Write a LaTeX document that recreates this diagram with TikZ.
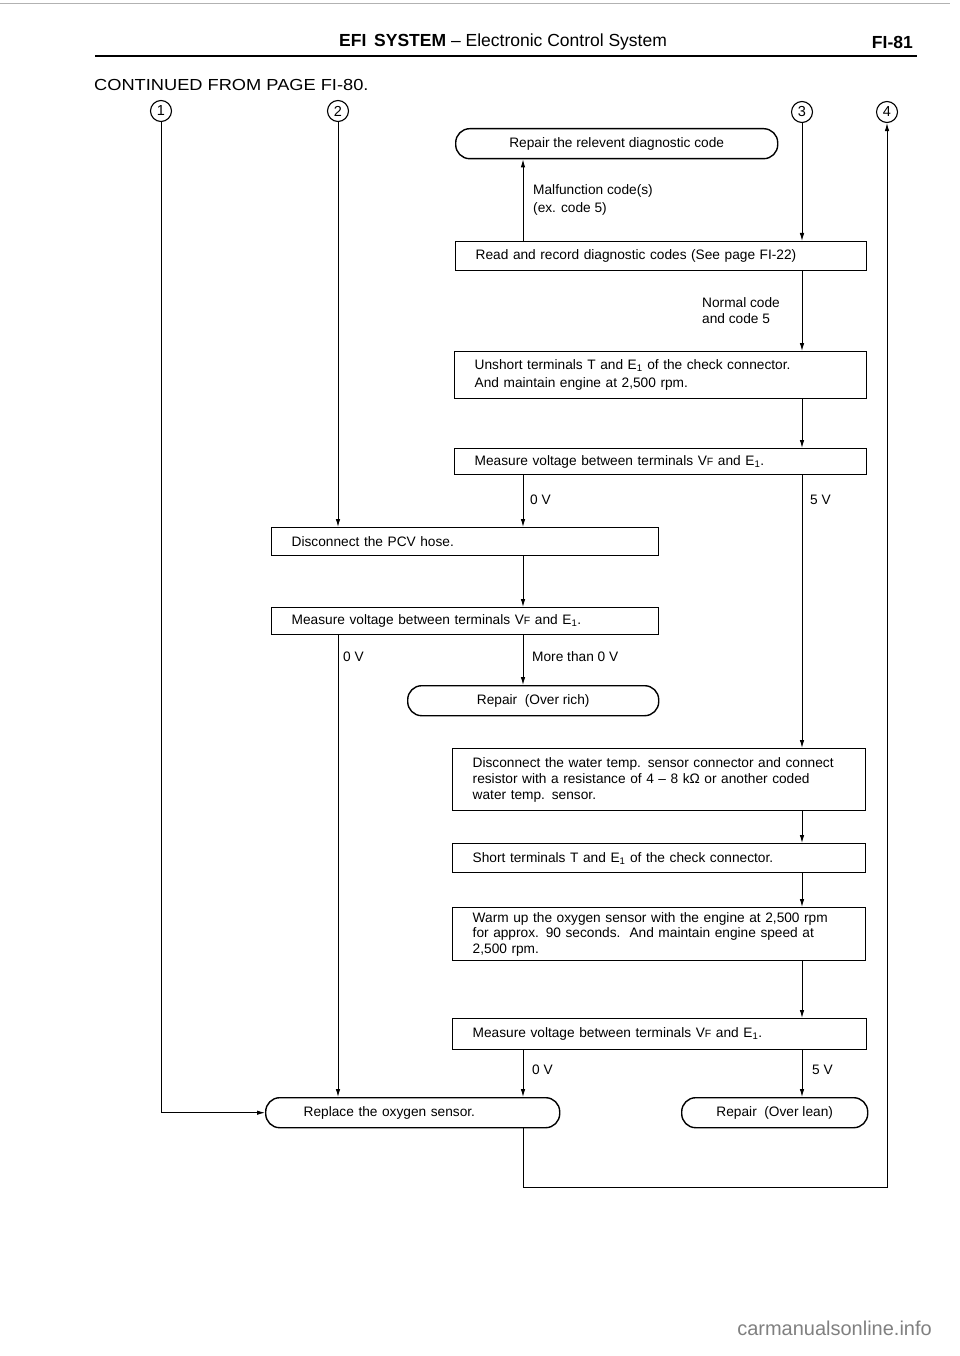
\documentclass[tikz,border=0pt]{standalone}
\usepackage{fontspec}
\setmainfont{Liberation Sans}
\usetikzlibrary{arrows.meta}
\newcommand\VFt{V{\fontsize{10.5}{10.5}\selectfont F}}
\newcommand\Eone{E\textsubscript{1}}
\begin{document}
\begin{tikzpicture}[x=1pt,y=-1pt,
  every node/.style={font=\fontsize{13.7}{16}\selectfont},
  box/.style={draw,line width=1.4pt,inner xsep=20pt,inner ysep=0pt,align=left,anchor=north west},
  oval/.style={draw,line width=1.4pt,rounded corners=14pt,inner ysep=0pt,anchor=north west},
  conn/.style={line width=0.9pt},
  arr/.style={conn,-{Latex[length=8pt,width=4.5pt]}},
  circ/.style={draw,circle,line width=1.1pt,minimum size=21pt,inner sep=0pt,font=\fontsize{14.5}{14.5}\selectfont},
  lbl/.style={anchor=west,inner sep=0pt,align=left}]
\useasboundingbox (0,0) rectangle (960,1356);

% page furniture
\draw[gray!60,line width=0.8pt] (0,3) -- (950,3);
\node[anchor=west,inner sep=0pt,font=\fontsize{17.5}{17.5}\selectfont] (hdr) at (339,42) {\textbf{EFI\, SYSTEM} -- Electronic Control System};
\node[anchor=east,inner sep=0pt,font=\fontsize{17.5}{17.5}\bfseries] (page) at (913,42) {FI-81};
\draw[line width=2.2pt] (95,56) -- (917,56);
\node[anchor=west,inner sep=0pt,font=\fontsize{16}{16}\selectfont] (cont) at (94,85) {\scalebox{1.14}[1]{CONTINUED FROM PAGE FI-80.}};
\node[anchor=east,inner sep=0pt,text=gray,font=\fontsize{20}{20}\selectfont] (wm) at (932,1328) {carmanualsonline.info};

% circled numbers
\node[circ] (c1) at (161,111) {1};
\node[circ] (c2) at (338,111) {2};
\node[circ] (c3) at (802,112) {3};
\node[circ] (c4) at (887,112) {4};

% columns
\coordinate (colA) at (523,0);
\coordinate (colB) at (802,0);
\coordinate (bot) at (0,1187);

% boxes
\node[oval,minimum width=322pt,minimum height=30pt,align=center] (diag) at (455,128) {Repair the relevent diagnostic code};
\node[box,minimum width=411pt,text width=371pt,minimum height=29pt] (read) at (455,241) {Read and record diagnostic codes (See page FI-22)};
\node[box,minimum width=412pt,text width=372pt,minimum height=47pt,font=\fontsize{13.7}{18}\selectfont] (unshort) at (454,351) {Unshort terminals T and \Eone\ of the check connector.\\And maintain engine at 2,500 rpm.};
\node[box,minimum width=412pt,text width=372pt,minimum height=26pt] (meas1) at (454,448) {Measure voltage between terminals \VFt\ and \Eone.};
\node[box,minimum width=387pt,text width=347pt,minimum height=28pt] (pcv) at (271,527) {Disconnect the PCV hose.};
\node[box,minimum width=387pt,text width=347pt,minimum height=27pt] (meas2) at (271,607) {Measure voltage between terminals \VFt\ and \Eone.};
\node[oval,minimum width=251pt,minimum height=30pt,align=center] (rich) at (407,685) {Repair\ \ (Over rich)};
\node[box,minimum width=413pt,text width=373pt,minimum height=62pt] (water) at (452,748) {Disconnect the water temp. sensor connector and connect\\resistor with a resistance of 4 -- 8 k\symbol{"03A9} or another coded\\water temp. sensor.};
\node[box,minimum width=413pt,text width=373pt,minimum height=29pt] (short) at (452,843) {Short terminals T and \Eone\ of the check connector.};
\node[box,minimum width=413pt,text width=373pt,minimum height=53pt,font=\fontsize{13.7}{15.5}\selectfont] (warm) at (452,907) {Warm up the oxygen sensor with the engine at 2,500 rpm\\for approx. 90 seconds.\ \ And maintain engine speed at\\2,500 rpm.};
\node[box,minimum width=414pt,text width=374pt,minimum height=31pt] (meas3) at (452,1018) {Measure voltage between terminals \VFt\ and \Eone.};
\node[oval,minimum width=294pt,minimum height=30pt,inner xsep=38pt,text width=218pt,align=left] (rep) at (265,1097) {Replace the oxygen sensor.};
\node[oval,minimum width=186pt,minimum height=30pt,align=center] (lean) at (681,1097) {Repair\ \ (Over lean)};

% labels
\node[lbl,font=\fontsize{13.7}{18}\selectfont] (lmal) at (533,200) {Malfunction code(s)\\(ex. code 5)};
\node[lbl] (lnorm) at (702,311) {Normal code\\and code 5};
\node[lbl] (l0a) at (530,500) {0 V};
\node[lbl] (l5a) at (810,500) {5 V};
\node[lbl] (l0b) at (343,657) {0 V};
\node[lbl] (lmore) at (532,657) {More than 0 V};
\node[lbl] (l0c) at (532,1070) {0 V};
\node[lbl] (l5c) at (812,1070) {5 V};

% connectors
\draw[arr] (c1.south) |- (rep.west);
\draw[arr] (c2.south) -- (c2.south |- pcv.north);
\draw[arr] (c3.south) -- (c3.south |- read.north);
\draw[arr] (read.north -| colA) -- (diag.south -| colA);
\draw[arr] (read.south -| colB) -- (unshort.north -| colB);
\draw[arr] (unshort.south -| colB) -- (meas1.north -| colB);
\draw[arr] (meas1.south -| colA) -- (pcv.north -| colA);
\draw[arr] (meas1.south -| colB) -- (water.north -| colB);
\draw[arr] (pcv.south -| colA) -- (meas2.north -| colA);
\draw[arr] (meas2.south -| colA) -- (rich.north -| colA);
\draw[arr] (meas2.south -| c2) -- (rep.north -| c2);
\draw[arr] (water.south -| colB) -- (short.north -| colB);
\draw[arr] (short.south -| colB) -- (warm.north -| colB);
\draw[arr] (warm.south -| colB) -- (meas3.north -| colB);
\draw[arr] (meas3.south -| colA) -- (rep.north -| colA);
\draw[arr] (meas3.south -| colB) -- (lean.north -| colB);
\draw[arr] (rep.south -| colA) -- (bot -| colA) -- (bot -| c4) -- (c4.south);
\end{tikzpicture}
\end{document}
